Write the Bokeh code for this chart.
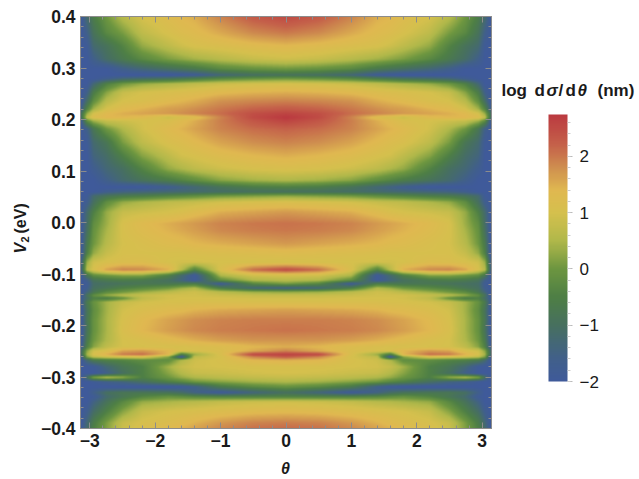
import numpy as np
from bokeh.embed import file_html
from bokeh.resources import INLINE
from bokeh.plotting import figure
from bokeh.core.properties import value
from bokeh.models import ColorBar, FixedTicker, LinearAxis, LinearColorMapper, Range1d

# Values: log dsigma/dtheta at |theta| columns and V2 rows.
theta_cols = [0, .5, 1, 1.4, 1.6, 1.8, 2.2, 2.5, 2.75, 2.95, 3.05, 3.1416]
v2_rows = [.40, .3695, .344, .318, .299, .287, .280, .27, .253, .237, .221, .212, .2045, .198, .182, .156, .13, .105,
           .082, .0686, .06, .052, .0395, .02, -.002, -.0155, -.041, -.06, -.077, -.092, -.103, -.1126, -.119, -.1275,
           -.135, -.1417, -.1476, -.155, -.171, -.19, -.21, -.229, -.242, -.25, -.257, -.2615, -.268, -.281, -.2935,
           -.3016, -.31, -.32, -.331, -.339, -.349, -.368, -.39, -.40]
log_sigma = [
 [2.5, 2.3, 1.9, 1.5, 1.4, 1.25, 1, .6, 0, -.6, -1.2, -2],
 [2, 1.85, 1.55, 1.3, 1.2, 1.05, .7, .1, -.3, -.9, -1.6, -2],
 [1.4, 1.3, 1.15, 1.05, .9, .7, .3, -.4, -.9, -1.2, -1.9, -2],
 [.9, .8, .6, .4, .25, .1, -.3, -.7, -1.1, -1.6, -2, -2],
 [0, -.1, -.3, -.7, -.85, -1, -1.3, -1.6, -2, -2, -2, -2],
 [-.9, -1, -1.3, -1.8, -1.9, -2, -2, -2, -2, -2, -2, -2],
 [0, -.1, -.3, -.6, -.75, -.9, -1.1, -1.3, -1.7, -2, -2, -2],
 [1, .95, .85, .7, .6, .5, .3, 0, -.5, -1.3, -2, -2],
 [1.5, 1.45, 1.35, 1.2, 1.15, 1.1, 1, .8, .2, -.6, -1.6, -2],
 [1.9, 1.85, 1.75, 1.5, 1.4, 1.3, 1.1, 1, .6, -.2, -1.1, -2],
 [2.3, 2.2, 2, 1.8, 1.7, 1.65, 1.45, 1.3, 1, .4, -.4, -1.6],
 [2.6, 2.45, 2.1, 1.9, 1.8, 1.7, 1.6, 1.5, 1.35, 1, .3, -1],
 [2.75, 2.5, 1.9, 1.2, 1.05, .85, 1.3, 1.4, 1.4, 1.2, .7, -1],
 [2.6, 2.35, 1.95, 1.5, 1.3, 1.1, 1, .9, .8, .4, -.2, -1.8],
 [2.2, 2.1, 1.9, 1.6, 1.45, 1.3, .95, .5, 0, -.8, -1.6, -2],
 [1.9, 1.8, 1.6, 1.35, 1.2, 1.1, .7, .1, -.8, -1.2, -1.9, -2],
 [1.5, 1.4, 1.25, 1.05, .95, .7, .2, -.5, -1.1, -1.4, -2, -2],
 [1.1, 1.05, .9, .7, .5, .3, -.4, -1, -1.3, -1.7, -2, -2],
 [.5, .4, .2, -.2, -.4, -.6, -.9, -1.2, -1.6, -2, -2, -2],
 [-.5, -.6, -.9, -1.3, -1.5, -1.7, -2, -2, -2, -2, -2, -2],
 [-1, -1, -1.1, -1.2, -1.25, -1.3, -1.4, -1.5, -1.7, -2, -2, -2],
 [.2, .1, 0, -.2, -.3, -.4, -.6, -.7, -.9, -1.2, -1.9, -2],
 [1.1, 1.05, .95, .8, .75, .7, .5, .3, -.2, -1, -1.7, -2],
 [1.7, 1.6, 1.5, 1.25, 1.1, 1, .9, .8, .3, -.5, -1.2, -2],
 [2.05, 2, 1.9, 1.7, 1.6, 1.5, 1.3, 1.05, .35, -.2, -1.1, -2],
 [2, 1.95, 1.85, 1.65, 1.55, 1.45, 1.25, 1.05, .45, -.1, -1, -2],
 [1.7, 1.6, 1.5, 1.4, 1.3, 1.25, 1.1, 1, .6, 0, -.7, -2],
 [1.25, 1.2, 1.15, 1.1, 1.05, 1.05, 1.05, 1.05, .8, .3, -.5, -2],
 [1, 1, 1, .95, .95, 1, 1.2, 1.15, 1.05, .9, .3, -1.6],
 [2.5, 2.1, 1.1, -.4, .6, 1.5, 1.85, 1.9, 1.6, 1.05, .6, -1.5],
 [1, .95, .5, -1.9, -1.2, -.5, .2, .2, 0, -.2, -.8, -2],
 [.6, .5, -.2, -1.9, -1.4, -1, -.7, -.6, -.7, -.9, -1.6, -2],
 [.1, -.3, -1.8, -.6, -.7, -.8, -.8, -.9, -1, -1.1, -1.8, -2],
 [-1.5, -1.3, -.6, .5, .3, 0, -.3, -.5, -.8, -1, -1.7, -2],
 [.2, .3, .6, .9, .8, .6, .3, 0, -.3, -.8, -1.4, -2],
 [.8, .8, .85, .95, .95, .95, .8, .6, .3, -.2, -.9, -2],
 [.95, .95, 1, 1, 1, .95, .7, -.1, -.6, -.5, -1.1, -1.8],
 [1.1, 1.1, 1.1, 1.1, 1.05, 1.05, .95, .8, .4, -.1, -.7, -1.8],
 [1.65, 1.6, 1.55, 1.45, 1.35, 1.3, 1.15, .95, .4, -.2, -.9, -2],
 [1.95, 1.95, 1.9, 1.8, 1.7, 1.6, 1.35, 1.05, .45, -.1, -.8, -2],
 [2.05, 2, 1.95, 1.85, 1.75, 1.65, 1.4, 1.1, .45, -.1, -.9, -2],
 [1.75, 1.75, 1.65, 1.5, 1.4, 1.3, 1.1, 1, .5, 0, -.7, -2],
 [1.5, 1.4, 1.2, 1.1, 1.05, 1.05, 1.05, 1, .7, .2, -.5, -1.8],
 [1.9, 1.55, 1.15, 1.05, 1.05, 1.4, 1.7, 1.6, 1.1, .9, .2, -1.2],
 [2.65, 2.55, 1.1, .3, -.6, 1.4, 2.1, 2, 1.5, 1.05, .4, -1.2],
 [2.3, 1.9, 1, .7, -1.9, .2, 1.1, 1, .9, .7, .1, -1.8],
 [1.5, 1.4, 1.05, .9, .5, -.2, -.2, -.4, -.5, -.7, -1.2, -2],
 [1.05, 1.05, 1, .95, .8, .4, -.5, -.8, -1.3, -1.9, -2, -2],
 [1, .95, .85, .8, .55, .2, -.5, -1, -1.6, -2, -2, -2],
 [.8, .75, .65, .5, .3, 0, -.5, .3, .6, .2, -1, -2],
 [.5, .4, .2, 0, -.3, -.5, -1, -1.4, -1.6, -1.9, -2, -2],
 [-.1, -.3, -.7, -1.6, -1.9, -2, -2, -2, -2, -2, -2, -2],
 [-1, -1.4, -1.9, -1.5, -1.1, -.9, -.8, -.8, -1, -1.6, -2, -2],
 [-.4, -.4, -.4, -.3, -.2, -.1, -.4, -.8, -1.2, -1.9, -2, -2],
 [.9, .85, .75, .6, .55, .45, .3, -.3, -.9, -1.5, -2, -2],
 [1.35, 1.3, 1.2, 1.1, 1.05, 1, .8, .2, -.5, -1.1, -1.7, -2],
 [1.95, 1.9, 1.7, 1.45, 1.3, 1.2, 1.05, .8, .1, -.6, -1.3, -2],
 [2.1, 2.05, 1.85, 1.6, 1.45, 1.3, 1.1, .85, .15, -.5, -1.2, -2],
]

x_ticks = [-3, -2, -1, 0, 1, 2, 3]
x_tick_labels = ["\u22123", "\u22122", "\u22121", "0", "1", "2", "3"]
y_ticks = [-.4, -.3, -.2, -.1, 0, .1, .2, .3, .4]
y_tick_labels = ["\u22120.4", "\u22120.3", "\u22120.2", "\u22120.1", "0.0", "0.1", "0.2", "0.3", "0.4"]
bar_ticks = [-2, -1, 0, 1, 2]
bar_tick_labels = ["\u22122", "\u22121", "0", "1", "2"]

palette_values = [-2, -1.6, -1, -.5, 0, .5, 1, 1.4, 1.8, 2.2, 2.745]
palette_colors = ["#3f5a9a", "#41608a", "#47705f", "#4e7f45", "#6d9640", "#b0b84a", "#d5c04d",
                  "#e0b850", "#cf8f4f", "#c5624a", "#bb3a40"]

THETA_MAX = 3.1416
V_MAX = 0.4
BAR_MIN, BAR_MAX = -2, 2.745

# Display resampling only, the way a density plot shades between its samples.
table = np.array(log_sigma)
v_asc = np.array(v2_rows)[::-1]
tab_asc = table[::-1]
th_px = np.linspace(-THETA_MAX, THETA_MAX, 411)
v_px = np.linspace(-V_MAX, V_MAX, 412)
by_col = np.array([np.interp(v_px, v_asc, tab_asc[:, j]) for j in range(len(theta_cols))])
img = np.array([np.interp(np.abs(th_px), theta_cols, by_col[:, i]) for i in range(len(v_px))])

vals = np.linspace(BAR_MIN, BAR_MAX, 256)
rgb = np.array([[int(c[k:k + 2], 16) for k in (1, 3, 5)] for c in palette_colors], float)
palette = ["#%02x%02x%02x" % tuple(int(round(np.interp(v, palette_values, rgb[:, k]))) for k in range(3)) for v in vals]
mapper = LinearColorMapper(palette=palette, low=BAR_MIN, high=BAR_MAX)

W, H = 639, 479
FRAME_L, FRAME_R, FRAME_T, FRAME_B = 80, 491, 16, 428
p = figure(width=W, height=H, output_backend="svg", toolbar_location=None,
           x_range=Range1d(-THETA_MAX, THETA_MAX), y_range=Range1d(-V_MAX, V_MAX),
           min_border_left=FRAME_L, min_border_right=W - FRAME_R, min_border_top=FRAME_T,
           min_border_bottom=H - FRAME_B, x_axis_label=None, y_axis_label=None)
p.grid.visible = False
p.outline_line_color = "#8c8c8c"
p.image(image=[img], x=-THETA_MAX, y=-V_MAX, dw=2 * THETA_MAX, dh=2 * V_MAX, color_mapper=mapper)

GRAY = "#8c8c8c"
def style(ax, ticks, minor, labels=None):
    ax.ticker = FixedTicker(ticks=ticks, minor_ticks=minor)
    ax.axis_line_color = GRAY
    ax.major_tick_line_color = GRAY
    ax.minor_tick_line_color = GRAY
    ax.major_tick_in, ax.major_tick_out = 6, 0
    ax.minor_tick_in, ax.minor_tick_out = 3, 0
    if labels:
        ax.major_label_overrides = dict(zip(ticks, labels))
        ax.major_label_text_font = "Liberation Sans"
        ax.major_label_text_font_style = "bold"
        ax.major_label_text_font_size = "17.5px"
        ax.major_label_text_color = "#1a1a1a"
        ax.major_label_standoff = 5
    else:
        ax.major_label_text_font_size = "0px"
        ax.major_label_text_color = None

x_minor = [round(-3.2 + .2 * i, 1) for i in range(33)]
y_minor = [round(-.4 + .02 * i, 2) for i in range(41)]
style(p.xaxis[0], x_ticks, x_minor, x_tick_labels)
style(p.yaxis[0], y_ticks, y_minor, y_tick_labels)
top = LinearAxis(); style(top, x_ticks, x_minor); p.add_layout(top, "above")
right = LinearAxis(); style(right, y_ticks, y_minor); p.add_layout(right, "right")

cb = ColorBar(color_mapper=mapper, width=19, height=267, location=(57, 47),
              ticker=FixedTicker(ticks=bar_ticks, minor_ticks=[round(-2 + .2 * i, 1) for i in range(24)]),
              major_label_overrides=dict(zip(bar_ticks, bar_tick_labels)),
              major_label_text_font="Liberation Sans", major_label_text_font_size="17px",
              major_label_text_color="#1a1a1a", major_tick_line_color="#bbbbbb",
              minor_tick_line_color="#cccccc", major_tick_in=0, major_tick_out=5, minor_tick_in=0, minor_tick_out=3,
              bar_line_color=None, border_line_color=None, background_fill_color=None, padding=0, label_standoff=7)
p.add_layout(cb, "right")

def glyph_label(px, py, text, size="17px", style_="bold", angle=0, align="left"):
    # level="overlay" keeps these text glyphs from being clipped to the frame.
    th = -THETA_MAX + (px - FRAME_L) / (FRAME_R - FRAME_L) * 2 * THETA_MAX
    v = V_MAX - (py - FRAME_T) / (FRAME_B - FRAME_T) * 2 * V_MAX
    p.text(x=[th], y=[v], text=[text], level="overlay", text_font=value("Liberation Sans"), text_font_size=value(size),
           text_font_style=style_, text_color="#1a1a1a", angle=angle, text_baseline="middle", text_align=align)

glyph_label(285, 468, "\u03b8", size="16px", style_="bold italic", align="center")
glyph_label(20, 253, "V", size="16px", style_="bold italic", angle=np.pi / 2)
glyph_label(24, 242, "2", size="11px", angle=np.pi / 2)
glyph_label(20, 233, "(eV)", size="16px", angle=np.pi / 2)
glyph_label(501, 90, "log")
glyph_label(534, 90, "d")
glyph_label(546, 90, "\u03c3", style_="bold italic")
glyph_label(558, 90, "/")
glyph_label(565, 90, "d")
glyph_label(577, 90, "\u03b8", style_="bold italic")
glyph_label(597, 90, "(nm)")

open("out.html", "w").write(file_html(p, INLINE))
